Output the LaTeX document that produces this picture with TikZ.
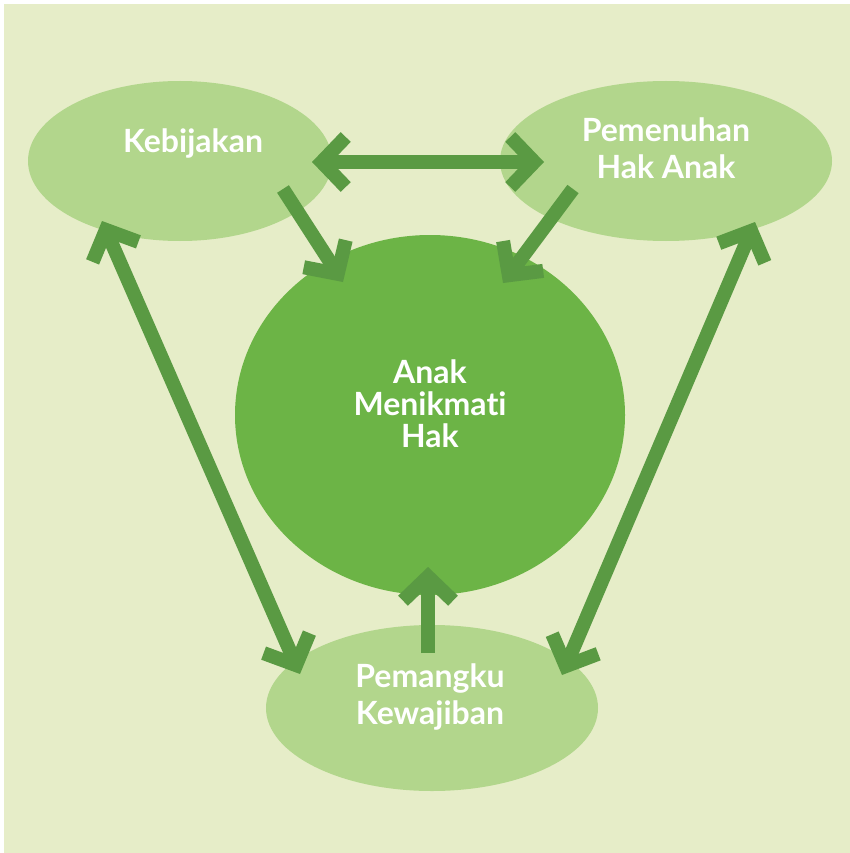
\documentclass[tikz,border=0pt]{standalone}
\usepackage{fontspec}
\setmainfont{Lato}[Ligatures=NoCommon]
\usetikzlibrary{arrows.meta, shapes.geometric}

\definecolor{bgcol}{HTML}{E6EDC8}
\definecolor{lightgreen}{HTML}{B2D68C}
\definecolor{midgreen}{HTML}{6CB446}
\definecolor{arrowgreen}{HTML}{5A9A43}

\begin{document}
\begin{tikzpicture}[x=1pt, y=-1pt]
\useasboundingbox (0, 0) rectangle (850, 853);
\fill [bgcol] (4, 4) rectangle (850, 853);

\begin{scope}[every node/.style={ellipse, fill=lightgreen, inner sep=0pt}]
    \node (kebijakan) at (180, 161) [minimum width=304pt, minimum height=160pt] {};
    \node (pemenuhan) at (666, 161) [minimum width=332pt, minimum height=160pt] {};
    \node (pemangku) at (432, 708) [minimum width=332pt, minimum height=166pt] {};
    \node (anak) at (430, 415) [fill=midgreen, minimum width=390pt, minimum height=360pt] {};
\end{scope}

\begin{scope}[every node/.style={text=white, align=center, inner sep=0pt,
              font=\fontsize{32}{37}\selectfont\bfseries}]
    \node (ktext) at (193, 143) {Kebijakan};
    \node (ptext) at (666, 148) {Pemenuhan\\Hak Anak};
    \node (atext) at (430, 404) [font=\fontsize{32}{32}\selectfont\bfseries] {Anak\\Menikmati\\Hak};
    \node (mtext) at (430, 697) {Pemangku\\Kewajiban};
\end{scope}

\coordinate (k1) at (312, 162);
\coordinate (p1) at (544, 162);
\coordinate (k2) at (283, 189);
\coordinate (a1) at (343, 282);
\coordinate (p2) at (573, 189);
\coordinate (a2) at (503, 283);
\coordinate (k3) at (102, 221);
\coordinate (m1) at (300, 674);
\coordinate (p3) at (755, 222);
\coordinate (m2) at (562, 675);
\coordinate (m3) at (428, 653);
\coordinate (a3) at (428, 567);

\begin{scope}[>={Straight Barb[length=24pt, width=50pt]},
              every edge/.style={draw=arrowgreen, line width=14pt}]
    \path [<->] (k1) edge (p1);
    \path [->] (k2) edge (a1);
    \path [->] (p2) edge (a2);
    \path [<->] (k3) edge (m1);
    \path [<->] (p3) edge (m2);
    \path [->] (m3) edge (a3);
\end{scope}
\end{tikzpicture}
\end{document}
